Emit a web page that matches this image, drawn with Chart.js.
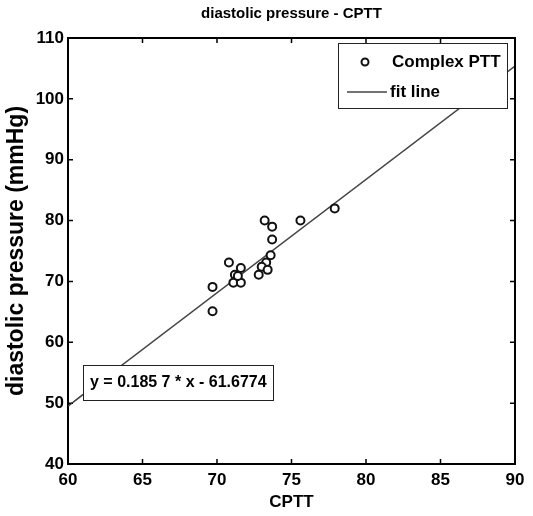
<!DOCTYPE html>
<html>
<head>
  <script src="https://cdn.jsdelivr.net/npm/chart.js"></script>
  <style>
    body { margin: 0; background: #fff; }
  </style>
</head>
<body>
  <canvas id="fitChart" width="533" height="516"></canvas>

  <script>
    // measured points (CPTT vs diastolic pressure)
    const cptt = [73.2, 73.7, 73.7, 75.6, 77.9, 70.8, 71.6, 71.2, 71.1, 71.6, 71.4, 69.7, 69.7, 73.6, 73.3, 73.0, 73.4, 72.8];
    const diastolic = [80.0, 79.0, 76.9, 80.0, 82.0, 73.1, 72.2, 71.1, 69.8, 69.8, 70.9, 69.1, 65.1, 74.3, 73.1, 72.4, 71.9, 71.1];

    // fit line end points
    const fitX = [60, 90];
    const fitY = [49.5, 105.4];

    const seriesNames = ['Complex PTT', 'fit line'];
    const fitLabel = 'y = 0.185 7 * x - 61.6774';

    const FONT = 'Liberation Sans, Arial, sans-serif';

    // MATLAB-ish frame, inward ticks, legend box and equation box
    const matlabBits = {
      id: 'matlabBits',
      afterDatasetsDraw(chart) {
        const { ctx, chartArea: a, scales } = chart;
        ctx.save();

        // frame
        ctx.strokeStyle = '#000';
        ctx.lineWidth = 2;
        ctx.strokeRect(a.left, a.top, a.right - a.left, a.bottom - a.top);

        // inward ticks on all four sides
        ctx.lineWidth = 1.5;
        ctx.beginPath();
        scales.x.ticks.forEach(t => {
          const px = scales.x.getPixelForValue(t.value);
          ctx.moveTo(px, a.bottom); ctx.lineTo(px, a.bottom - 5);
          ctx.moveTo(px, a.top); ctx.lineTo(px, a.top + 5);
        });
        scales.y.ticks.forEach(t => {
          const py = scales.y.getPixelForValue(t.value);
          ctx.moveTo(a.left, py); ctx.lineTo(a.left + 5, py);
          ctx.moveTo(a.right, py); ctx.lineTo(a.right - 5, py);
        });
        ctx.stroke();

        // legend box, top right inside the axes
        const lw = 169, lh = 65;
        const lx = a.right - 8 - lw, ly = a.top + 5;
        ctx.fillStyle = '#fff';
        ctx.fillRect(lx, ly, lw, lh);
        ctx.lineWidth = 1;
        ctx.strokeStyle = '#222';
        ctx.strokeRect(lx + 0.5, ly + 0.5, lw, lh);

        ctx.font = 'bold 17px ' + FONT;
        ctx.fillStyle = '#000';
        ctx.textBaseline = 'middle';
        ctx.textAlign = 'left';

        ctx.beginPath();
        ctx.arc(lx + 27, ly + 19, 3.5, 0, Math.PI * 2);
        ctx.lineWidth = 2;
        ctx.strokeStyle = '#111';
        ctx.stroke();
        ctx.fillText(seriesNames[0], lx + 54, ly + 19);

        ctx.beginPath();
        ctx.moveTo(lx + 9, ly + 49); ctx.lineTo(lx + 49, ly + 49);
        ctx.lineWidth = 1.5;
        ctx.strokeStyle = '#444';
        ctx.stroke();
        ctx.fillText(seriesNames[1], lx + 52, ly + 49);

        // equation box with pointer to the fit line start
        const bx = 83, by = 365, bw = 190, bh = 35;
        ctx.fillStyle = '#fff';
        ctx.fillRect(bx, by, bw, bh);
        ctx.lineWidth = 1;
        ctx.strokeStyle = '#222';
        ctx.strokeRect(bx + 0.5, by + 0.5, bw, bh);
        ctx.fillStyle = '#000';
        ctx.font = 'bold 16px ' + FONT;
        ctx.fillText(fitLabel, bx + 7, by + 18);

        ctx.beginPath();
        ctx.moveTo(bx, by + bh - 6);
        ctx.lineTo(scales.x.getPixelForValue(fitX[0]), scales.y.getPixelForValue(fitY[0]));
        ctx.lineWidth = 1;
        ctx.strokeStyle = '#444';
        ctx.stroke();

        ctx.restore();
      }
    };

    const ctx = document.getElementById('fitChart').getContext('2d');
    const fitChart = new Chart(ctx, {
      type: 'scatter',
      data: {
        datasets: [
          {
            label: seriesNames[0],
            data: cptt.map((x, i) => ({ x: x, y: diastolic[i] })),
            pointStyle: 'circle',
            pointRadius: 4,
            borderWidth: 2,
            borderColor: '#111',
            backgroundColor: '#fff',
            order: 1,
          },
          {
            label: seriesNames[1],
            type: 'line',
            data: fitX.map((x, i) => ({ x: x, y: fitY[i] })),
            showLine: true,
            borderColor: '#444',
            borderWidth: 1.5,
            pointRadius: 0,
            fill: false,
            order: 2,
          },
        ],
      },
      options: {
        responsive: false,
        animation: false,
        layout: {
          padding: { left: 0, right: 18, top: 0, bottom: 0 }
        },
        scales: {
          x: {
            type: 'linear',
            min: 60,
            max: 90,
            afterFit: s => { s.height = 52; },
            grid: { display: false, drawTicks: false },
            border: { display: false },
            ticks: {
              stepSize: 5,
              padding: 6,
              color: '#000',
              font: { family: FONT, size: 17, weight: 'bold' }
            },
            title: {
              display: true,
              text: 'CPTT',
              color: '#000',
              padding: { top: 0, bottom: 3 },
              font: { family: FONT, size: 17, weight: 'bold' }
            }
          },
          y: {
            min: 40,
            max: 110,
            afterFit: s => { s.width = 68; },
            grid: { display: false, drawTicks: false },
            border: { display: false },
            ticks: {
              stepSize: 10,
              padding: 4,
              color: '#000',
              font: { family: FONT, size: 17, weight: 'bold' }
            },
            title: {
              display: true,
              text: 'diastolic pressure (mmHg)',
              color: '#000',
              padding: { top: 3, bottom: 0 },
              font: { family: FONT, size: 23, weight: 'bold' }
            }
          },
        },
        plugins: {
          legend: { display: false },
          tooltip: { enabled: false },
          title: {
            display: true,
            fullSize: false,
            text: 'diastolic pressure - CPTT',
            color: '#000',
            padding: { top: 5, bottom: 15 },
            font: { family: FONT, size: 15, weight: 'bold' }
          }
        },
      },
      plugins: [matlabBits],
    });
  </script>
</body>
</html>
